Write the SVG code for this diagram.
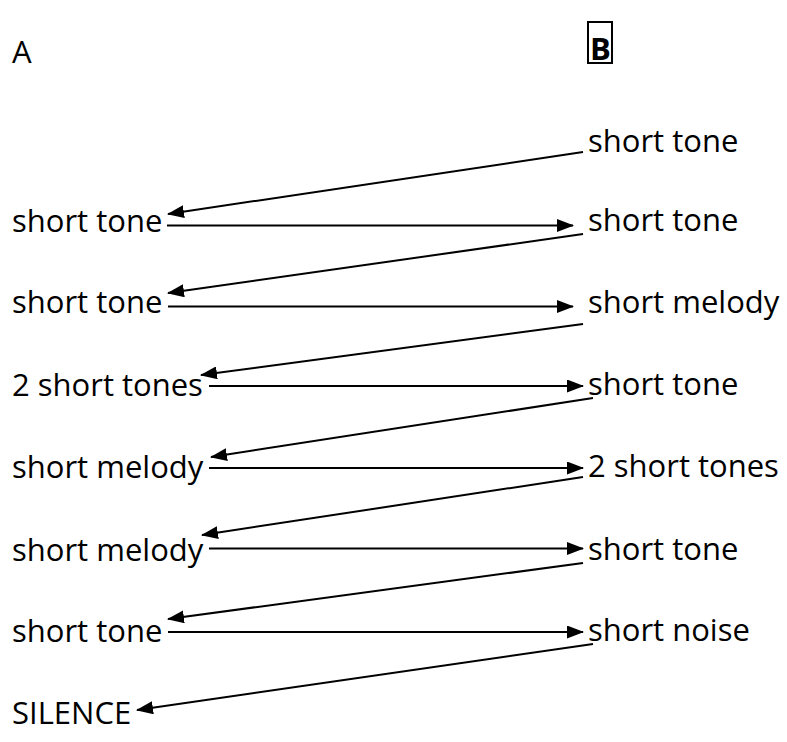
<svg xmlns="http://www.w3.org/2000/svg" width="787" height="742" viewBox="0 0 787 742">
<style>
text{font-family:"Open Sans","Noto Sans","Liberation Sans",sans-serif;font-size:31px;fill:#000}
.b{font-weight:bold}
.c{stroke:#000;stroke-width:2;fill:none}
</style>
<defs>
<marker id="ah" viewBox="0 0 17 13" refX="16" refY="6.5" markerWidth="17" markerHeight="13" orient="auto" markerUnits="userSpaceOnUse"><path d="M0,0 L17,6.5 L0,13 z" fill="#000"/></marker>
</defs>
<rect width="787" height="742" fill="#fff"/>
<g id="hdrA"><text x="12" y="63">A</text></g>
<g id="hdrB"><rect x="588" y="22" width="24" height="41" fill="none" stroke="#000" stroke-width="2"/><text class="b" x="590" y="60">B</text></g>
<g id="L1"><text x="12" y="232">short tone</text></g>
<g id="L2"><text x="12" y="313">short tone</text></g>
<g id="L3"><text x="12" y="396">2 short tones</text></g>
<g id="L4"><text x="12" y="478">short melody</text></g>
<g id="L5"><text x="12" y="561">short melody</text></g>
<g id="L6"><text x="12" y="642">short tone</text></g>
<g id="L7"><text x="12" y="724">SILENCE</text></g>
<g id="R0"><text x="588" y="152">short tone</text></g>
<g id="R1"><text x="588" y="231">short tone</text></g>
<g id="R2"><text x="588" y="313">short melody</text></g>
<g id="R3"><text x="588" y="395">short tone</text></g>
<g id="R4"><text x="588" y="477">2 short tones</text></g>
<g id="R5"><text x="588" y="560">short tone</text></g>
<g id="R6"><text x="588" y="641">short noise</text></g>
<g id="connectors" class="c">
<line class="c" x1="167" y1="225.5" x2="573" y2="225.5" marker-end="url(#ah)"/>
<line class="c" x1="168" y1="306.5" x2="573" y2="306.5" marker-end="url(#ah)"/>
<line class="c" x1="209" y1="386" x2="583" y2="386" marker-end="url(#ah)"/>
<line class="c" x1="209" y1="468" x2="583" y2="468" marker-end="url(#ah)"/>
<line class="c" x1="209" y1="548.5" x2="583" y2="548.5" marker-end="url(#ah)"/>
<line class="c" x1="168" y1="632" x2="583" y2="632" marker-end="url(#ah)"/>
<line class="c" x1="583" y1="152" x2="168" y2="214" marker-end="url(#ah)"/>
<line class="c" x1="583" y1="234" x2="168" y2="293" marker-end="url(#ah)"/>
<line class="c" x1="583" y1="324" x2="201" y2="375" marker-end="url(#ah)"/>
<line class="c" x1="593" y1="398" x2="211" y2="457" marker-end="url(#ah)"/>
<line class="c" x1="583" y1="477" x2="202" y2="535" marker-end="url(#ah)"/>
<line class="c" x1="583" y1="563" x2="168" y2="619" marker-end="url(#ah)"/>
<line class="c" x1="593" y1="644" x2="137" y2="710" marker-end="url(#ah)"/>
</g>
</svg>
